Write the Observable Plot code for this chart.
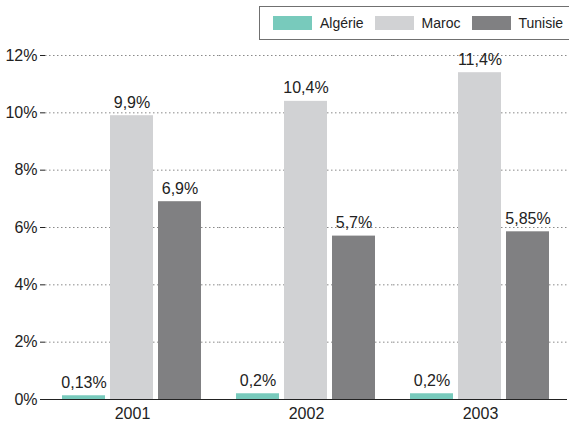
<!DOCTYPE html>
<html>
<head>
<meta charset="utf-8">
<script src="https://cdn.jsdelivr.net/npm/d3@7"></script>
<script src="https://cdn.jsdelivr.net/npm/@observablehq/plot@0.6"></script>
<style>
  body { margin: 0; background: #fff; font-family: "Liberation Sans", Arial, sans-serif; }
  #wrap { width: 569px; position: relative; overflow: hidden; }
  #legend { height: 40px; position: relative; }
  #legend .box { position: absolute; left: 259px; top: 6px; width: 330px; height: 34px; border: 1px solid #707070; box-sizing: border-box; display: flex; align-items: center; padding-left: 13px; }
  #legend .item { display: flex; align-items: center; margin-right: 11px; font-size: 14px; color: #222; }
  #legend .sw { width: 39px; height: 14px; margin-right: 8px; }
</style>
</head>
<body>
<div id="wrap">
  <div id="legend"><div class="box"></div></div>
  <div id="chart"></div>
</div>
<script>
const years = ["2001", "2002", "2003"];
const series = ["Algérie", "Maroc", "Tunisie"];
const algerie = [0.13, 0.2, 0.2];
const maroc = [9.9, 10.4, 11.4];
const tunisie = [6.9, 5.7, 5.85];
const colors = ["#78cabc", "#d1d2d4", "#808082"];
const yTicks = [0, 2, 4, 6, 8, 10, 12];

const values = [algerie, maroc, tunisie];
const data = years.flatMap((yr, i) => series.map((s, j) => ({year: yr, series: s, value: values[j][i]})));
const fmt = v => String(v).replace(".", ",") + "%";

// legend
const box = document.querySelector("#legend .box");
series.forEach((s, j) => {
  const it = document.createElement("div");
  it.className = "item";
  it.innerHTML = `<span class="sw" style="background:${colors[j]}"></span><span>${s}</span>`;
  box.appendChild(it);
});

const data3 = years.map((yr, i) => ({year: yr, first: i === 0}));
// axis frame marks: left axis line in first facet, short boundary ticks in others
const frameMark = (index, scales) => {
  const g = d3.create("svg:g");
  const x0 = scales.x.range()[0];
  for (const i of index) {
    const d = data3[i];
    if (d.first) {
      g.append("line").attr("x1", x0).attr("x2", x0)
        .attr("y1", scales.y(12)).attr("y2", scales.y(0))
        .attr("stroke", "#222").attr("stroke-width", 1.2);
    } else {
      g.append("line").attr("x1", x0).attr("x2", x0)
        .attr("y1", scales.y(0) - 8).attr("y2", scales.y(0))
        .attr("stroke", "#222").attr("stroke-width", 1);
    }
  }
  return g.node();
};

const chart = Plot.plot({
  width: 569,
  height: 385,
  marginLeft: 45,
  marginRight: 2,
  marginTop: 15,
  marginBottom: 26,
  style: {fontFamily: "'Liberation Sans', Arial, sans-serif", fontSize: "16px", color: "#222", background: "#fff"},
  fx: {domain: years, padding: 0, label: null, axis: "bottom", tickSize: 0, tickPadding: 8},
  x: {domain: series, paddingInner: 0.1, paddingOuter: 0.33, axis: null},
  y: {domain: [0, 12], ticks: yTicks, tickFormat: d => d + "%", label: null, tickSize: 5, tickPadding: 3},
  color: {domain: series, range: colors},
  marks: [
    Plot.gridY(yTicks.filter(d => d > 0), {stroke: "#8a8a8a", strokeOpacity: 1, strokeDasharray: "1.5,2.5"}),
    Plot.barY(data, {fx: "year", x: "series", y: "value", fill: "series"}),
    Plot.text(data, {fx: "year", x: "series", y: "value", text: d => fmt(d.value), lineAnchor: "bottom", dy: -8, fontSize: 16, fill: "#222"}),
    Plot.ruleY([0], {stroke: "#222", strokeWidth: 1.2}),
    Plot.text(data3, {fx: "year", render: frameMark})
  ]
});
document.getElementById("chart").appendChild(chart);
</script>
</body>
</html>
